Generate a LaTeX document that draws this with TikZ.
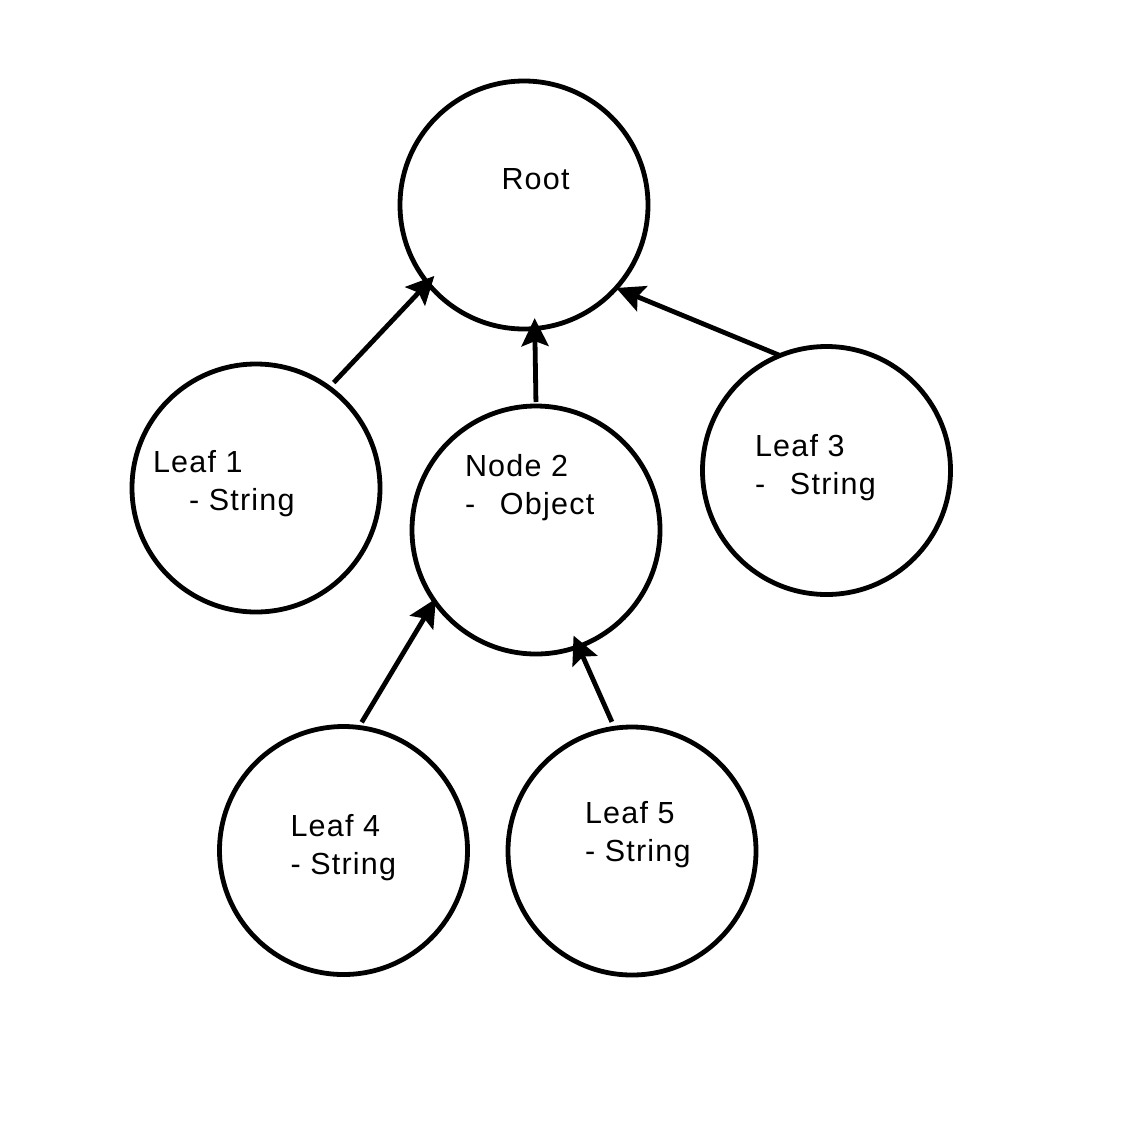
\documentclass[tikz,border=0pt]{standalone}
\usepackage{fontspec}
\setmainfont[LetterSpace=4]{Liberation Sans}
\usetikzlibrary{arrows.meta}
\begin{document}
\begin{tikzpicture}[x=1pt,y=-1pt,
  treenode/.style={circle,draw=black,line width=4.8pt,minimum size=248pt,inner sep=0pt,outer sep=0pt,fill=white},
  lbl/.style={anchor=base west,inner sep=0pt,outer sep=0pt,align=left,font=\fontsize{30.5}{38}\selectfont},
  link/.style={line width=4.8pt,-{Stealth[length=28pt,width=27pt,inset=5pt]}}]
\useasboundingbox[fill=white] (0,0) rectangle (1140,1128);

% circles
\node[treenode] (root)  at (524,205) {};
\node[treenode] (leaf1) at (256,488) {};
\node[treenode] (node2) at (536,530) {};
\node[treenode] (leaf3) at (826.5,470.5) {};
\node[treenode] (leaf4) at (343.5,850.5) {};
\node[treenode] (leaf5) at (632,851) {};

% labels (anchored on the baseline of their last line)
\node[lbl] (troot)  at (501.5,189) {Root};
\node[lbl] (tleaf1) at (153,510.7) {Leaf 1\\\hspace*{36pt}- String};
\node[lbl] (tnode2) at (465,514) {Node 2\\\rlap{-}\hspace*{35pt}Object};
\node[lbl] (tleaf3) at (755,494) {Leaf 3\\\rlap{-}\hspace*{35pt}String};
\node[lbl] (tleaf4) at (290.5,874) {Leaf 4\\- String};
\node[lbl] (tleaf5) at (585,861.7) {Leaf 5\\- String};

% edges towards the parent
\draw[link,shorten <=7pt,shorten >=-9.8pt] (leaf1.54) -- (root.219.6);
\draw[link,shorten <=4pt,shorten >=-10.4pt] (node2.north) -- (root.275.6);
\draw[link] (leaf3.112.9) -- (root.318.9);
\draw[link,shorten <=6pt,shorten >=-3pt] (leaf4.83) -- (node2.215.8);
\draw[link,shorten <=7pt,shorten >=-12pt] (leaf5.98.9) -- (node2.290.6);
\end{tikzpicture}
\end{document}
